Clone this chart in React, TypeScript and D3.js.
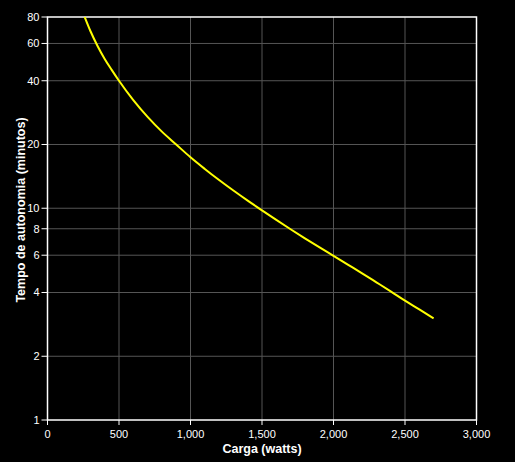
import React from "react";
import * as d3 from "d3";

const loadWatts = [260, 300, 350, 400, 450, 500, 600, 700, 800, 900, 1000, 1100, 1200, 1300, 1400, 1500, 1600, 1700, 1800, 1900, 2000, 2100, 2200, 2300, 2400, 2500, 2600, 2700];
const runtimeMinutes = [80, 68.7, 58.4, 50.7, 44.9, 40, 32.4, 27.0, 23.0, 20, 17.4, 15.33, 13.59, 12.12, 10.86, 9.77, 8.81, 7.96, 7.21, 6.55, 5.96, 5.42, 4.93, 4.47, 4.05, 3.66, 3.33, 3.02];
const xTicks = [0, 500, 1000, 1500, 2000, 2500, 3000];
const yTicks = [1, 2, 4, 6, 8, 10, 20, 40, 60, 80];
const xTitle = "Carga (watts)";
const yTitle = "Tempo de autonomia (minutos)";

const W = 515;
const H = 462;
const left = 47.5;
const right = 476.5;
const top = 17;
const bottom = 420;

export default function App() {
  const x = d3.scaleLinear().domain([0, 3000]).range([left, right]);
  const y = d3.scaleLog().domain([1, 80]).range([bottom, top]);
  const pts: [number, number][] = loadWatts.map((w, i) => [w, runtimeMinutes[i]]);
  const line = d3
    .line<[number, number]>()
    .x((d) => x(d[0]))
    .y((d) => y(d[1]))
    .curve(d3.curveMonotoneX);
  const fmt = d3.format(",");
  const font = "'Liberation Sans', Arial, sans-serif";

  return (
    <svg
      width={W}
      height={H}
      style={{ position: "absolute", left: 0, top: 0, background: "#000" }}
      fontFamily={font}
    >
      <rect x={0} y={0} width={W} height={H} fill="#000" />
      {xTicks.slice(1, -1).map((t) => (
        <line key={"gx" + t} x1={x(t)} x2={x(t)} y1={top} y2={bottom} stroke="#555" strokeWidth={1} />
      ))}
      {yTicks.slice(1, -1).map((t) => (
        <line key={"gy" + t} x1={left} x2={right} y1={y(t)} y2={y(t)} stroke="#555" strokeWidth={1} />
      ))}
      <rect x={left} y={top} width={right - left} height={bottom - top} fill="none" stroke="#fff" strokeWidth={1.5} />
      {xTicks.map((t) => (
        <g key={"tx" + t}>
          <line x1={x(t)} x2={x(t)} y1={bottom} y2={bottom + 5} stroke="#fff" strokeWidth={1} />
          <text x={x(t)} y={437.5} fill="#fff" fontSize={11} textAnchor="middle">
            {fmt(t)}
          </text>
        </g>
      ))}
      {yTicks.map((t) => (
        <g key={"ty" + t}>
          <line x1={left - 6} x2={left} y1={y(t)} y2={y(t)} stroke="#fff" strokeWidth={1} />
          <text x={39.5} y={y(t)} dy="0.35em" fill="#fff" fontSize={11} textAnchor="end">
            {t}
          </text>
        </g>
      ))}
      <path d={line(pts) || ""} fill="none" stroke="#ffff00" strokeWidth={2} />
      <text x={(left + right) / 2} y={453} fill="#fff" fontSize={12.5} fontWeight="bold" textAnchor="middle">
        {xTitle}
      </text>
      <text
        transform={`translate(25, 210) rotate(-90)`}
        fill="#fff"
        fontSize={12.5}
        fontWeight="bold"
        textAnchor="middle"
      >
        {yTitle}
      </text>
    </svg>
  );
}
